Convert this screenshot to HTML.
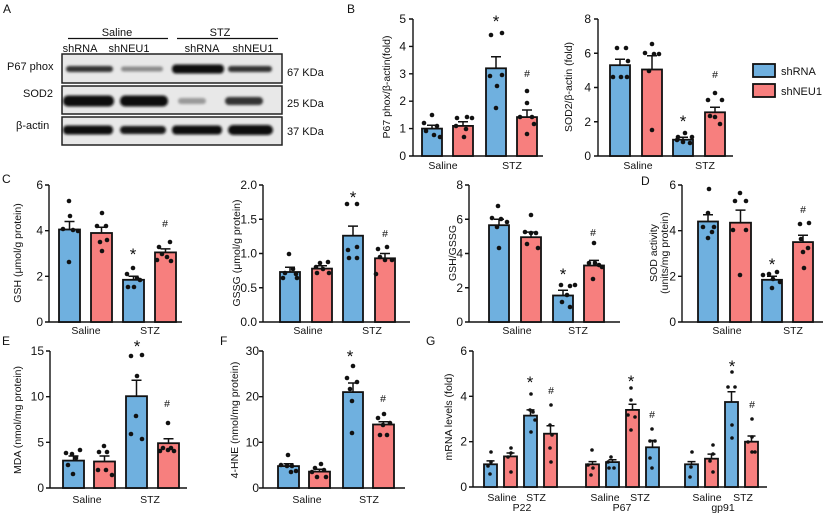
<!DOCTYPE html>
<html><head><meta charset="utf-8">
<style>
html,body{margin:0;padding:0;background:#fff;}
svg{display:block;}
text{font-family:"Liberation Sans",Arial,sans-serif;fill:#111;}
.tk{font-size:12px;text-anchor:end;}
.yl{font-size:10.5px;text-anchor:middle;}
.cl{font-size:10.5px;text-anchor:middle;}
.pl{font-size:12px;}
.st{font-size:17px;text-anchor:middle;}
.hs{font-size:10.5px;text-anchor:middle;}
.ax{stroke:#111;stroke-width:1.4;fill:none;}
.b{fill:#6fb0df;stroke:#111;stroke-width:1.8;}
.r{fill:#f77f7e;stroke:#111;stroke-width:1.8;}
.e{stroke:#111;stroke-width:1.5;fill:none;}
.d{fill:#111;}
</style></head>
<body>
<svg width="825" height="514" viewBox="0 0 825 514" xmlns="http://www.w3.org/2000/svg">
<defs><filter id="bl" x="-20%" y="-100%" width="140%" height="300%"><feGaussianBlur stdDeviation="1.4"/></filter></defs>

<!-- Panel letters -->
<text class="pl" x="3" y="13">A</text>
<text class="pl" x="347" y="13">B</text>
<text class="pl" x="2" y="183">C</text>
<text class="pl" x="641" y="185">D</text>
<text class="pl" x="2" y="345">E</text>
<text class="pl" x="220" y="345">F</text>
<text class="pl" x="426" y="345">G</text>

<!-- ===== Panel A: Western blot ===== -->
<text class="cl" x="117" y="36" style="font-size:11px">Saline</text>
<text class="cl" x="220" y="36" style="font-size:11px">STZ</text>
<line x1="68" y1="38.5" x2="168" y2="38.5" stroke="#111" stroke-width="1.2"/>
<line x1="177" y1="38.5" x2="278" y2="38.5" stroke="#111" stroke-width="1.2"/>
<text class="cl" x="80" y="52" style="font-size:11px">shRNA</text>
<text class="cl" x="129" y="52" style="font-size:11px">shNEU1</text>
<text class="cl" x="202" y="52" style="font-size:11px">shRNA</text>
<text class="cl" x="253" y="52" style="font-size:11px">shNEU1</text>
<text x="7" y="70" style="font-size:11px">P67 phox</text>
<text x="23" y="97" style="font-size:11px">SOD2</text>
<text x="16" y="129" style="font-size:11px">β-actin</text>
<text x="287" y="76" style="font-size:11px">67 KDa</text>
<text x="287" y="107" style="font-size:11px">25 KDa</text>
<text x="287" y="135" style="font-size:11px">37 KDa</text>
<rect x="62" y="54" width="220" height="29" fill="#e8e8e8" stroke="#222" stroke-width="1.5"/>
<rect x="62" y="86" width="220" height="28" fill="#e8e8e8" stroke="#222" stroke-width="1.5"/>
<rect x="62" y="117" width="220" height="28" fill="#e8e8e8" stroke="#222" stroke-width="1.5"/>
<g filter="url(#bl)">
<rect x="66" y="66" width="47" height="6" rx="3" fill="#333"/>
<rect x="121" y="66.5" width="42" height="5" rx="2.5" fill="#8a8a8a"/>
<rect x="172" y="64.5" width="52" height="9" rx="4" fill="#111"/>
<rect x="228" y="66" width="44" height="6" rx="3" fill="#333"/>
<rect x="63" y="95.5" width="51" height="11" rx="5" fill="#111"/>
<rect x="120" y="95.5" width="48" height="11" rx="5" fill="#111"/>
<rect x="178" y="98" width="28" height="6" rx="3" fill="#9a9a9a"/>
<rect x="225" y="97" width="38" height="8" rx="4" fill="#333"/>
<rect x="63" y="125.5" width="50" height="9" rx="4" fill="#111"/>
<rect x="120" y="126" width="46" height="8" rx="4" fill="#181818"/>
<rect x="172" y="125.5" width="50" height="9" rx="4" fill="#111"/>
<rect x="228" y="125" width="45" height="10" rx="5" fill="#111"/>
</g>

<!-- ===== Panel B1 ===== -->
<text class="yl" transform="translate(390,87) rotate(-90)">P67 phox/β-actin(fold)</text>
<path class="ax" d="M413 19 V156 H543 M409 156 H413 M409 128.6 H413 M409 101.2 H413 M409 73.8 H413 M409 46.4 H413 M409 19 H413"/>
<text class="tk" x="406" y="160">0</text>
<text class="tk" x="406" y="132.6">1</text>
<text class="tk" x="406" y="105.2">2</text>
<text class="tk" x="406" y="77.8">3</text>
<text class="tk" x="406" y="50.4">4</text>
<text class="tk" x="406" y="23">5</text>
<rect class="b" x="422" y="128.6" width="20" height="27.4"/>
<rect class="r" x="453" y="125.9" width="20" height="30.1"/>
<rect class="b" x="486" y="68.3" width="20" height="87.7"/>
<rect class="r" x="517" y="117.1" width="20" height="38.9"/>
<path class="e" d="M432 128.6V125.3M427 125.3H437 M463 125.9V121.75M458 121.75H468 M496 68.3V56.8M491 56.8H501 M527 117.1V110M522 110H532"/>
<g class="d">
<circle cx="432" cy="115" r="2.3"/><circle cx="424" cy="123" r="2.3"/><circle cx="437" cy="126" r="2.3"/><circle cx="426" cy="131" r="2.3"/><circle cx="434" cy="135" r="2.3"/><circle cx="440" cy="137" r="2.3"/>
<circle cx="457" cy="118" r="2.3"/><circle cx="467" cy="117" r="2.3"/><circle cx="472" cy="118" r="2.3"/><circle cx="456" cy="126" r="2.3"/><circle cx="466" cy="129" r="2.3"/><circle cx="464" cy="137" r="2.3"/>
<circle cx="491" cy="35" r="2.3"/><circle cx="502" cy="33" r="2.3"/><circle cx="502" cy="75" r="2.3"/><circle cx="490" cy="76" r="2.3"/><circle cx="497" cy="86" r="2.3"/><circle cx="496" cy="108" r="2.3"/>
<circle cx="527" cy="91" r="2.3"/><circle cx="527" cy="103" r="2.3"/><circle cx="520" cy="117" r="2.3"/><circle cx="532" cy="117" r="2.3"/><circle cx="534" cy="124" r="2.3"/><circle cx="527" cy="134" r="2.3"/>
</g>
<text class="st" x="496" y="27">*</text>
<text class="hs" x="527" y="77">#</text>
<text class="cl" x="443" y="169">Saline</text>
<text class="cl" x="512" y="169">STZ</text>

<!-- ===== Panel B2 ===== -->
<text class="yl" transform="translate(572,87) rotate(-90)">SOD2/β-actin (fold)</text>
<path class="ax" d="M598 19 V156 H733 M594 156 H598 M594 121.75 H598 M594 87.5 H598 M594 53.25 H598 M594 19 H598"/>
<text class="tk" x="591" y="160">0</text>
<text class="tk" x="591" y="125.75">2</text>
<text class="tk" x="591" y="91.5">4</text>
<text class="tk" x="591" y="57.25">6</text>
<text class="tk" x="591" y="23">8</text>
<rect class="b" x="610" y="65.2" width="20" height="90.8"/>
<rect class="r" x="642" y="69.5" width="20" height="86.5"/>
<rect class="b" x="673" y="139.7" width="20" height="16.3"/>
<rect class="r" x="705" y="112.3" width="20" height="43.7"/>
<path class="e" d="M620 65.2V59.2M615 59.2H625 M652 69.5V55.8M647 55.8H657 M683 139.7V137.2M678 137.2H688 M715 112.3V107.2M710 107.2H720"/>
<g class="d">
<circle cx="617" cy="48" r="2.3"/><circle cx="626" cy="48" r="2.3"/><circle cx="628" cy="61" r="2.3"/><circle cx="613" cy="77" r="2.3"/><circle cx="621" cy="77" r="2.3"/><circle cx="627" cy="77" r="2.3"/>
<circle cx="652" cy="44" r="2.3"/><circle cx="645" cy="53" r="2.3"/><circle cx="654" cy="54" r="2.3"/><circle cx="659" cy="54" r="2.3"/><circle cx="649" cy="71" r="2.3"/><circle cx="652" cy="130" r="2.3"/>
<circle cx="678" cy="137" r="2.3"/><circle cx="685" cy="133" r="2.3"/><circle cx="692" cy="137" r="2.3"/><circle cx="677" cy="140" r="2.3"/><circle cx="683" cy="142" r="2.3"/><circle cx="690" cy="143" r="2.3"/>
<circle cx="715" cy="93" r="2.3"/><circle cx="708" cy="100" r="2.3"/><circle cx="722" cy="100" r="2.3"/><circle cx="710" cy="116" r="2.3"/><circle cx="715" cy="117" r="2.3"/><circle cx="720" cy="124" r="2.3"/>
</g>
<text class="st" x="683" y="127">*</text>
<text class="hs" x="715" y="78">#</text>
<text class="cl" x="638" y="169">Saline</text>
<text class="cl" x="705" y="169">STZ</text>

<!-- Legend -->
<rect class="b" x="753" y="64" width="22" height="13"/>
<rect class="r" x="753" y="84" width="22" height="13"/>
<text x="781" y="75" style="font-size:11px">shRNA</text>
<text x="781" y="95" style="font-size:11px">shNEU1</text>

<!-- ===== Panel C1 GSH ===== -->
<text class="yl" transform="translate(21,253) rotate(-90)">GSH (μmol/g protein)</text>
<path class="ax" d="M49 185 V322 H182 M45 322 H49 M45 276.3 H49 M45 230.7 H49 M45 185 H49"/>
<text class="tk" x="43" y="326">0</text>
<text class="tk" x="43" y="280.3">2</text>
<text class="tk" x="43" y="234.7">4</text>
<text class="tk" x="43" y="189">6</text>
<rect class="b" x="59" y="229.5" width="21" height="92.5"/>
<rect class="r" x="91" y="233" width="21" height="89"/>
<rect class="b" x="123" y="279.8" width="21" height="42.2"/>
<rect class="r" x="155" y="252.4" width="21" height="69.6"/>
<path class="e" d="M69.5 229.5V221.5M64.5 221.5H74.5 M101.5 233V227.2M96.5 227.2H106.5 M133.5 279.8V276.3M128.5 276.3H138.5 M165.5 252.4V248.9M160.5 248.9H170.5"/>
<g class="d">
<circle cx="69" cy="201" r="2.3"/><circle cx="70" cy="216" r="2.3"/><circle cx="63" cy="229" r="2.3"/><circle cx="73" cy="230" r="2.3"/><circle cx="78" cy="231" r="2.3"/><circle cx="69" cy="262" r="2.3"/>
<circle cx="102" cy="213" r="2.3"/><circle cx="97" cy="226" r="2.3"/><circle cx="106" cy="226" r="2.3"/><circle cx="100" cy="242" r="2.3"/><circle cx="107" cy="240" r="2.3"/><circle cx="102" cy="251" r="2.3"/>
<circle cx="133" cy="268" r="2.3"/><circle cx="127" cy="274" r="2.3"/><circle cx="137" cy="278" r="2.3"/><circle cx="128" cy="287" r="2.3"/><circle cx="134" cy="287" r="2.3"/><circle cx="140" cy="280" r="2.3"/>
<circle cx="159" cy="247" r="2.3"/><circle cx="170" cy="242" r="2.3"/><circle cx="162" cy="254" r="2.3"/><circle cx="167" cy="257" r="2.3"/><circle cx="157" cy="260" r="2.3"/><circle cx="171" cy="261" r="2.3"/>
</g>
<text class="st" x="133" y="260">*</text>
<text class="hs" x="165" y="227">#</text>
<text class="cl" x="86" y="334">Saline</text>
<text class="cl" x="150" y="334">STZ</text>

<!-- ===== Panel C2 GSSG ===== -->
<text class="yl" transform="translate(240,253) rotate(-90)">GSSG (μmol/g protein)</text>
<path class="ax" d="M263 185 V322 H410 M259 322 H263 M259 287.75 H263 M259 253.5 H263 M259 219.25 H263 M259 185 H263"/>
<text class="tk" x="257" y="326">0.0</text>
<text class="tk" x="257" y="291.75">0.5</text>
<text class="tk" x="257" y="257.5">1.0</text>
<text class="tk" x="257" y="223.25">1.5</text>
<text class="tk" x="257" y="189">2.0</text>
<rect class="b" x="280" y="272" width="20" height="50"/>
<rect class="r" x="312" y="268.6" width="20" height="53.4"/>
<rect class="b" x="343" y="235.7" width="20" height="86.3"/>
<rect class="r" x="375" y="258.3" width="20" height="63.7"/>
<path class="e" d="M290 272V267.2M285 267.2H295 M322 268.6V265.8M317 265.8H327 M353 235.7V226.1M348 226.1H358 M385 258.3V253.5M380 253.5H390"/>
<g class="d">
<circle cx="289" cy="254" r="2.3"/><circle cx="285" cy="273" r="2.3"/><circle cx="293" cy="269" r="2.3"/><circle cx="296" cy="274" r="2.3"/><circle cx="283" cy="278" r="2.3"/><circle cx="297" cy="278" r="2.3"/>
<circle cx="320" cy="263" r="2.3"/><circle cx="328" cy="262" r="2.3"/><circle cx="316" cy="267" r="2.3"/><circle cx="323" cy="269" r="2.3"/><circle cx="317" cy="273" r="2.3"/><circle cx="329" cy="273" r="2.3"/>
<circle cx="347" cy="204" r="2.3"/><circle cx="357" cy="204" r="2.3"/><circle cx="357" cy="247" r="2.3"/><circle cx="348" cy="250" r="2.3"/><circle cx="349" cy="258" r="2.3"/><circle cx="357" cy="258" r="2.3"/>
<circle cx="378" cy="249" r="2.3"/><circle cx="387" cy="247" r="2.3"/><circle cx="380" cy="257" r="2.3"/><circle cx="392" cy="260" r="2.3"/><circle cx="385" cy="260" r="2.3"/><circle cx="376" cy="274" r="2.3"/>
</g>
<text class="st" x="353" y="203">*</text>
<text class="hs" x="385" y="237">#</text>
<text class="cl" x="308" y="334">Saline</text>
<text class="cl" x="372" y="334">STZ</text>

<!-- ===== Panel C3 GSH/GSSG ===== -->
<text class="yl" transform="translate(456,253) rotate(-90)">GSH/GSSG</text>
<path class="ax" d="M469 185 V322 H620 M465 322 H469 M465 287.75 H469 M465 253.5 H469 M465 219.25 H469 M465 185 H469"/>
<text class="tk" x="463" y="326">0</text>
<text class="tk" x="463" y="291.75">2</text>
<text class="tk" x="463" y="257.5">4</text>
<text class="tk" x="463" y="223.25">6</text>
<text class="tk" x="463" y="189">8</text>
<rect class="b" x="489" y="225.2" width="20" height="96.8"/>
<rect class="r" x="521" y="237.2" width="20" height="84.8"/>
<rect class="b" x="553" y="295.5" width="20" height="26.5"/>
<rect class="r" x="584" y="265.5" width="20" height="56.5"/>
<path class="e" d="M499 225.2V219.3M494 219.3H504 M531 237.2V232.1M526 232.1H536 M563 295.5V290.3M558 290.3H568 M594 265.5V260.4M589 260.4H599"/>
<g class="d">
<circle cx="498" cy="206" r="2.3"/><circle cx="492" cy="218" r="2.3"/><circle cx="501" cy="219" r="2.3"/><circle cx="507" cy="222" r="2.3"/><circle cx="497" cy="227" r="2.3"/><circle cx="499" cy="248" r="2.3"/>
<circle cx="531" cy="215" r="2.3"/><circle cx="525" cy="232" r="2.3"/><circle cx="531" cy="233" r="2.3"/><circle cx="536" cy="233" r="2.3"/><circle cx="527" cy="244" r="2.3"/><circle cx="538" cy="248" r="2.3"/>
<circle cx="561" cy="285" r="2.3"/><circle cx="570" cy="286" r="2.3"/><circle cx="575" cy="285" r="2.3"/><circle cx="567" cy="295" r="2.3"/><circle cx="562" cy="302" r="2.3"/><circle cx="570" cy="307" r="2.3"/>
<circle cx="594" cy="243" r="2.3"/><circle cx="589" cy="263" r="2.3"/><circle cx="595" cy="263" r="2.3"/><circle cx="602" cy="267" r="2.3"/><circle cx="593" cy="279" r="2.3"/><circle cx="599" cy="265" r="2.3"/>
</g>
<text class="st" x="563" y="280">*</text>
<text class="hs" x="593" y="236">#</text>
<text class="cl" x="517" y="334">Saline</text>
<text class="cl" x="578" y="334">STZ</text>

<!-- ===== Panel D SOD ===== -->
<text class="yl" transform="translate(657,253) rotate(-90)">SOD activity</text>
<text class="yl" transform="translate(668,253) rotate(-90)">(units/mg protein)</text>
<path class="ax" d="M682 185 V322 H823 M678 322 H682 M678 276.3 H682 M678 230.7 H682 M678 185 H682"/>
<text class="tk" x="676" y="326">0</text>
<text class="tk" x="676" y="280.3">2</text>
<text class="tk" x="676" y="234.7">4</text>
<text class="tk" x="676" y="189">6</text>
<rect class="b" x="698" y="221.5" width="20" height="100.5"/>
<rect class="r" x="730" y="222.7" width="21" height="99.3"/>
<rect class="b" x="762" y="279.8" width="20" height="42.2"/>
<rect class="r" x="793" y="242.1" width="20" height="79.9"/>
<path class="e" d="M708 221.5V214.7M703 214.7H713 M740.5 222.7V210.1M735.5 210.1H745.5 M772 279.8V276.3M767 276.3H777 M803 242.1V235.2M798 235.2H808"/>
<g class="d">
<circle cx="709" cy="189" r="2.3"/><circle cx="708" cy="213" r="2.3"/><circle cx="703" cy="227" r="2.3"/><circle cx="714" cy="227" r="2.3"/><circle cx="708" cy="238" r="2.3"/><circle cx="712" cy="232" r="2.3"/>
<circle cx="740" cy="193" r="2.3"/><circle cx="735" cy="201" r="2.3"/><circle cx="746" cy="201" r="2.3"/><circle cx="733" cy="230" r="2.3"/><circle cx="746" cy="230" r="2.3"/><circle cx="740" cy="275" r="2.3"/>
<circle cx="769" cy="274" r="2.3"/><circle cx="777" cy="272" r="2.3"/><circle cx="763" cy="275" r="2.3"/><circle cx="773" cy="279" r="2.3"/><circle cx="780" cy="282" r="2.3"/><circle cx="772" cy="288" r="2.3"/>
<circle cx="800" cy="224" r="2.3"/><circle cx="809" cy="223" r="2.3"/><circle cx="801" cy="239" r="2.3"/><circle cx="808" cy="248" r="2.3"/><circle cx="803" cy="252" r="2.3"/><circle cx="804" cy="268" r="2.3"/>
</g>
<text class="st" x="772" y="270">*</text>
<text class="hs" x="803" y="213">#</text>
<text class="cl" x="727" y="334">Saline</text>
<text class="cl" x="793" y="334">STZ</text>

<!-- ===== Panel E MDA ===== -->
<text class="yl" transform="translate(21,420) rotate(-90)">MDA (nmol/mg protein)</text>
<path class="ax" d="M50 351 V488 H187 M46 488 H50 M46 442.3 H50 M46 396.7 H50 M46 351 H50"/>
<text class="tk" x="44" y="492">0</text>
<text class="tk" x="44" y="446.3">5</text>
<text class="tk" x="44" y="400.7">10</text>
<text class="tk" x="44" y="355">15</text>
<rect class="b" x="63" y="460.6" width="21" height="27.4"/>
<rect class="r" x="94" y="461.5" width="21" height="26.5"/>
<rect class="b" x="126" y="396.2" width="21" height="91.8"/>
<rect class="r" x="158" y="443.2" width="21" height="44.8"/>
<path class="e" d="M73.5 460.6V456M68.5 456H78.5 M104.5 461.5V456M99.5 456H109.5 M136.5 396.2V380.2M131.5 380.2H141.5 M168.5 443.2V438.7M163.5 438.7H173.5"/>
<g class="d">
<circle cx="80" cy="450" r="2.3"/><circle cx="66" cy="453" r="2.3"/><circle cx="72" cy="454" r="2.3"/><circle cx="76" cy="458" r="2.3"/><circle cx="68" cy="465" r="2.3"/><circle cx="73" cy="474" r="2.3"/>
<circle cx="104" cy="446" r="2.3"/><circle cx="99" cy="452" r="2.3"/><circle cx="107" cy="452" r="2.3"/><circle cx="98" cy="470" r="2.3"/><circle cx="106" cy="470" r="2.3"/><circle cx="112" cy="475" r="2.3"/>
<circle cx="131" cy="356" r="2.3"/><circle cx="142" cy="355" r="2.3"/><circle cx="137" cy="376" r="2.3"/><circle cx="136" cy="416" r="2.3"/><circle cx="131" cy="434" r="2.3"/><circle cx="142" cy="439" r="2.3"/>
<circle cx="168" cy="423" r="2.3"/><circle cx="163" cy="448" r="2.3"/><circle cx="168" cy="450" r="2.3"/><circle cx="174" cy="451" r="2.3"/><circle cx="160" cy="451" r="2.3"/><circle cx="171" cy="448" r="2.3"/>
</g>
<text class="st" x="137" y="352">*</text>
<text class="hs" x="167" y="407">#</text>
<text class="cl" x="87" y="503">Saline</text>
<text class="cl" x="150" y="503">STZ</text>

<!-- ===== Panel F 4-HNE ===== -->
<text class="yl" transform="translate(238,420) rotate(-90)">4-HNE (nmol/mg protein)</text>
<path class="ax" d="M263 351 V488 H405 M259 488 H263 M259 442.3 H263 M259 396.7 H263 M259 351 H263"/>
<text class="tk" x="259" y="492">0</text>
<text class="tk" x="259" y="446.3">10</text>
<text class="tk" x="259" y="400.7">20</text>
<text class="tk" x="259" y="355">30</text>
<rect class="b" x="278" y="466.1" width="21" height="21.9"/>
<rect class="r" x="309" y="471.6" width="21" height="16.4"/>
<rect class="b" x="343" y="392.1" width="20" height="95.9"/>
<rect class="r" x="373" y="424.5" width="21" height="63.5"/>
<path class="e" d="M288.5 466.1V463.8M283.5 463.8H293.5 M319.5 471.6V469.3M314.5 469.3H324.5 M353 392.1V383M348 383H358 M383.5 424.5V421.8M378.5 421.8H388.5"/>
<g class="d">
<circle cx="288" cy="455" r="2.3"/><circle cx="281" cy="465" r="2.3"/><circle cx="287" cy="466" r="2.3"/><circle cx="292" cy="466" r="2.3"/><circle cx="296" cy="471" r="2.3"/><circle cx="291" cy="472" r="2.3"/>
<circle cx="321" cy="464" r="2.3"/><circle cx="315" cy="468" r="2.3"/><circle cx="312" cy="472" r="2.3"/><circle cx="324" cy="470" r="2.3"/><circle cx="317" cy="477" r="2.3"/><circle cx="326" cy="477" r="2.3"/>
<circle cx="353" cy="366" r="2.3"/><circle cx="347" cy="378" r="2.3"/><circle cx="357" cy="382" r="2.3"/><circle cx="350" cy="389" r="2.3"/><circle cx="352" cy="401" r="2.3"/><circle cx="352" cy="433" r="2.3"/>
<circle cx="384" cy="414" r="2.3"/><circle cx="378" cy="418" r="2.3"/><circle cx="390" cy="423" r="2.3"/><circle cx="380" cy="435" r="2.3"/><circle cx="387" cy="435" r="2.3"/><circle cx="383" cy="425" r="2.3"/>
</g>
<text class="st" x="350" y="362">*</text>
<text class="hs" x="383" y="402">#</text>
<text class="cl" x="307" y="503">Saline</text>
<text class="cl" x="369" y="503">STZ</text>

<!-- ===== Panel G mRNA ===== -->
<text class="yl" transform="translate(452,417) rotate(-90)">mRNA levels (fold)</text>
<path class="ax" d="M473 351 V487 H767 M469 487 H473 M469 441.7 H473 M469 396.3 H473 M469 351 H473"/>
<text class="tk" x="467" y="491">0</text>
<text class="tk" x="467" y="445.7">2</text>
<text class="tk" x="467" y="400.3">4</text>
<text class="tk" x="467" y="355">6</text>
<rect class="b" x="484" y="464.3" width="13" height="22.7"/>
<rect class="r" x="504" y="456.4" width="13" height="30.6"/>
<rect class="b" x="524" y="415.6" width="13" height="71.4"/>
<rect class="r" x="544" y="433.7" width="13" height="53.3"/>
<rect class="r" x="586" y="464.3" width="13" height="22.7"/>
<rect class="b" x="606" y="462.1" width="13" height="24.9"/>
<rect class="r" x="626" y="409.9" width="13" height="77.1"/>
<rect class="b" x="646" y="447.3" width="13" height="39.7"/>
<rect class="b" x="685" y="464.3" width="13" height="22.7"/>
<rect class="r" x="705" y="458.7" width="13" height="28.3"/>
<rect class="b" x="725" y="402" width="13" height="85"/>
<rect class="r" x="745" y="441.7" width="13" height="45.3"/>
<path class="e" d="M490.5 464.3V460.9M486.5 460.9H494.5 M510.5 456.4V453M506.5 453H514.5 M530.5 415.6V409.9M526.5 409.9H534.5 M550.5 433.7V425.8M546.5 425.8H554.5
M592.5 464.3V461.6M588.5 461.6H596.5 M612.5 462.1V459.8M608.5 459.8H616.5 M632.5 409.9V404.3M628.5 404.3H636.5 M652.5 447.3V440.5M648.5 440.5H656.5
M691.5 464.3V461.6M687.5 461.6H695.5 M711.5 458.7V454.1M707.5 454.1H715.5 M731.5 402V391.8M727.5 391.8H735.5 M751.5 441.7V436M747.5 436H755.5"/>
<g class="d">
<circle cx="491" cy="452" r="1.8"/><circle cx="491" cy="462" r="1.8"/><circle cx="488" cy="466" r="1.8"/><circle cx="490" cy="474" r="1.8"/>
<circle cx="511" cy="448" r="1.8"/><circle cx="511" cy="453" r="1.8"/><circle cx="508" cy="457" r="1.8"/><circle cx="511" cy="472" r="1.8"/>
<circle cx="531" cy="394" r="1.8"/><circle cx="530" cy="410" r="1.8"/><circle cx="533" cy="412" r="1.8"/><circle cx="535" cy="420" r="1.8"/><circle cx="531" cy="432" r="1.8"/>
<circle cx="551" cy="405" r="1.8"/><circle cx="550" cy="425" r="1.8"/><circle cx="552" cy="435" r="1.8"/><circle cx="550" cy="448" r="1.8"/><circle cx="551" cy="462" r="1.8"/>
<circle cx="592" cy="450" r="1.8"/><circle cx="588" cy="465" r="1.8"/><circle cx="593" cy="468" r="1.8"/><circle cx="591" cy="475" r="1.8"/>
<circle cx="611" cy="457" r="1.8"/><circle cx="608" cy="462" r="1.8"/><circle cx="614" cy="468" r="1.8"/><circle cx="609" cy="468" r="1.8"/>
<circle cx="631" cy="388" r="1.8"/><circle cx="631" cy="400" r="1.8"/><circle cx="628" cy="415" r="1.8"/><circle cx="635" cy="417" r="1.8"/><circle cx="631" cy="430" r="1.8"/>
<circle cx="652" cy="429" r="1.8"/><circle cx="650" cy="441" r="1.8"/><circle cx="655" cy="441" r="1.8"/><circle cx="650" cy="458" r="1.8"/><circle cx="652" cy="468" r="1.8"/>
<circle cx="692" cy="452" r="1.8"/><circle cx="691" cy="467" r="1.8"/><circle cx="690" cy="477" r="1.8"/>
<circle cx="713" cy="445" r="1.8"/><circle cx="713" cy="454" r="1.8"/><circle cx="710" cy="461" r="1.8"/><circle cx="713" cy="472" r="1.8"/>
<circle cx="732" cy="372" r="1.8"/><circle cx="728" cy="387" r="1.8"/><circle cx="735" cy="387" r="1.8"/><circle cx="732" cy="425" r="1.8"/><circle cx="732" cy="438" r="1.8"/>
<circle cx="752" cy="419" r="1.8"/><circle cx="752" cy="437" r="1.8"/><circle cx="748" cy="442" r="1.8"/><circle cx="752" cy="452" r="1.8"/><circle cx="755" cy="452" r="1.8"/>
</g>
<text class="st" x="530" y="388">*</text>
<text class="hs" x="551" y="394">#</text>
<text class="st" x="631" y="387">*</text>
<text class="hs" x="652" y="418">#</text>
<text class="st" x="732" y="372">*</text>
<text class="hs" x="752" y="408">#</text>
<text class="cl" x="502" y="501">Saline</text>
<text class="cl" x="536" y="501">STZ</text>
<text class="cl" x="522" y="511">P22</text>
<text class="cl" x="605" y="501">Saline</text>
<text class="cl" x="640" y="501">STZ</text>
<text class="cl" x="622" y="511">P67</text>
<text class="cl" x="707" y="501">Saline</text>
<text class="cl" x="743" y="501">STZ</text>
<text class="cl" x="723" y="511">gp91</text>
</svg>
</body></html>
